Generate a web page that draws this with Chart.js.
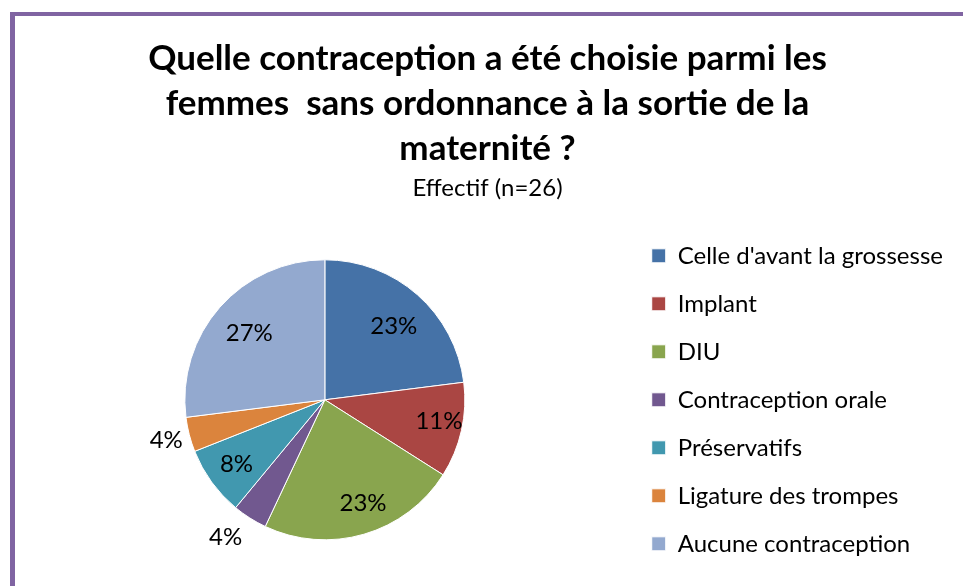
<!DOCTYPE html>
<html lang="fr">
<head>
<meta charset="utf-8">
<title>Contraception à la sortie de la maternité</title>
<script src="https://cdn.jsdelivr.net/npm/chart.js@4.4.0/dist/chart.umd.min.js"></script>
<style>
  html, body { margin: 0; padding: 0; background: #fff; }
  #cadre {
    position: absolute; left: 10px; top: 12px; width: 960px; height: 580px;
    border-left: 5px solid #8064a2; border-top: 4px solid #8064a2;
  }
  #zone { position: absolute; left: 0; top: 0; width: 963px; height: 586px; }
</style>
</head>
<body>
<div id="cadre"></div>
<div id="zone"><canvas id="graphique"></canvas></div>
<script>
// Répartition des contraceptions choisies (femmes sans ordonnance, n=26)
const categories = [
  "Celle d'avant la grossesse",
  "Implant",
  "DIU",
  "Contraception orale",
  "Préservatifs",
  "Ligature des trompes",
  "Aucune contraception"
];
const pourcentages = [23, 11, 23, 4, 8, 4, 27];
const couleurs = ["#4572a7", "#aa4643", "#89a54e", "#71588f", "#4198af", "#db843d", "#93a9cf"];

const titre = [
  "Quelle contraception a été choisie parmi les",
  "femmes  sans ordonnance à la sortie de la",
  "maternité ?"
];
const sousTitre = "Effectif (n=26)";

// Écrit le pourcentage de chaque part, dedans ou juste à côté pour les petites
const etiquettesPourcent = {
  id: "etiquettesPourcent",
  afterDatasetsDraw(chart, args, opts) {
    const ctx = chart.ctx;
    const meta = chart.getDatasetMeta(0);
    const valeurs = chart.data.datasets[0].data;
    ctx.save();
    ctx.font = "24px Lato";
    ctx.fillStyle = "#000";
    ctx.textAlign = "center";
    ctx.textBaseline = "middle";
    meta.data.forEach((arc, i) => {
      const p = arc.getProps(["x", "y", "startAngle", "endAngle", "outerRadius"], true);
      const milieu = (p.startAngle + p.endAngle) / 2 + (opts.decalages[i] || 0);
      const d = p.outerRadius * opts.rayons[i];
      ctx.fillText(valeurs[i] + "%", p.x + Math.cos(milieu) * d, p.y + Math.sin(milieu) * d);
    });
    ctx.restore();
  }
};

const ctx = document.getElementById("graphique").getContext("2d");
new Chart(ctx, {
  type: "pie",
  data: {
    labels: categories,
    datasets: [{
      data: pourcentages,
      backgroundColor: couleurs,
      borderColor: "#ffffff",
      borderWidth: 1,
      radius: 140
    }]
  },
  options: {
    responsive: true,
    maintainAspectRatio: false,
    animation: false,
    layout: { padding: { left: 22, right: 10, top: 36, bottom: 0 } },
    plugins: {
      title: {
        display: true,
        text: titre,
        color: "#000",
        font: { family: "Lato", size: 35, weight: "bold", lineHeight: 45 / 35 },
        padding: { top: 0, bottom: 3 }
      },
      subtitle: {
        display: true,
        text: sousTitre,
        color: "#000",
        font: { family: "Lato", size: 24, lineHeight: 1.15 },
        padding: { top: 0, bottom: 12 }
      },
      legend: {
        position: "right",
        fullSize: false,
        labels: {
          color: "#000",
          font: { family: "Lato", size: 24 },
          boxWidth: 14,
          boxHeight: 14,
          padding: 24
        }
      },
      tooltip: { enabled: false },
      etiquettesPourcent: {
        rayons: [0.72, 0.83, 0.79, 1.21, 0.78, 1.17, 0.72],
        decalages: [0.03, -0.03, -0.07, 0.06, 0, 0, 0]
      }
    }
  },
  plugins: [etiquettesPourcent]
});
</script>
</body>
</html>
